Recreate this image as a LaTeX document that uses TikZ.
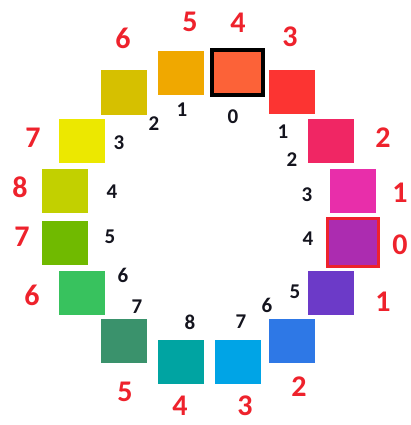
\documentclass[tikz,border=0pt]{standalone}
\usepackage{fontspec}
\setmainfont{Carlito}
\usetikzlibrary{positioning}
\definecolor{LabelRed}{RGB}{238,34,44}
\definecolor{LabelBlack}{RGB}{20,20,30}
\definecolor{ColA}{RGB}{252,98,56}
\definecolor{ColB}{RGB}{252,52,50}
\definecolor{ColC}{RGB}{240,38,100}
\definecolor{ColD}{RGB}{232,46,170}
\definecolor{ColE}{RGB}{172,44,176}
\definecolor{ColF}{RGB}{108,58,200}
\definecolor{ColG}{RGB}{46,120,230}
\definecolor{ColH}{RGB}{0,164,230}
\definecolor{ColI}{RGB}{0,164,162}
\definecolor{ColJ}{RGB}{58,146,108}
\definecolor{ColK}{RGB}{56,194,94}
\definecolor{ColL}{RGB}{112,186,0}
\definecolor{ColM}{RGB}{194,208,0}
\definecolor{ColN}{RGB}{236,232,0}
\definecolor{ColO}{RGB}{214,192,0}
\definecolor{ColP}{RGB}{240,168,0}
\tikzset{
  colsq/.style={rectangle,minimum width=46pt,minimum height=44pt,inner sep=0pt},
  outlbl/.style={text=LabelRed,font=\fontsize{30}{30}\selectfont\bfseries,inner sep=0pt},
  inlbl/.style={text=LabelBlack,font=\fontsize{21}{21}\selectfont\bfseries,inner sep=0pt},
}

\begin{document}
\begin{tikzpicture}[x=1pt,y=-1pt]
  \useasboundingbox (0,0) rectangle (410,425);
  % squares, clockwise from the top
  \node[colsq,fill=ColA,draw=black,line width=4pt,minimum width=51pt,minimum height=45pt] (sq1) at (237.5,72.5) {};
  \node[colsq,fill=ColB] (sq2) at (291.5,92) {};
  \node[colsq,fill=ColC] (sq3) at (331,141) {};
  \node[colsq,fill=ColD] (sq4) at (353,190.5) {};
  \node[colsq,fill=ColE,draw=LabelRed,line width=3pt,minimum width=51pt,minimum height=48pt] (sq5) at (353,242.5) {};
  \node[colsq,fill=ColF] (sq6) at (331,292.5) {};
  \node[colsq,fill=ColG] (sq7) at (291.5,341) {};
  \node[colsq,fill=ColH] (sq8) at (238,361.5) {};
  \node[colsq,fill=ColI] (sq9) at (181,361.5) {};
  \node[colsq,fill=ColJ] (sq10) at (124,341) {};
  \node[colsq,fill=ColK] (sq11) at (81.5,293) {};
  \node[colsq,fill=ColL] (sq12) at (65,242.5) {};
  \node[colsq,fill=ColM] (sq13) at (65,190.5) {};
  \node[colsq,fill=ColN] (sq14) at (81.5,141) {};
  \node[colsq,fill=ColO] (sq15) at (124,92.5) {};
  \node[colsq,fill=ColP] (sq16) at (181,73) {};
  % outer numbers
  \node[outlbl] (out1) at (238,23) {4};
  \node[outlbl] (out2) at (290,37) {3};
  \node[outlbl] (out3) at (383,138) {2};
  \node[outlbl] (out4) at (400,193) {1};
  \node[outlbl] (out5) at (400,245) {0};
  \node[outlbl] (out6) at (383,302) {1};
  \node[outlbl] (out7) at (299,387) {2};
  \node[outlbl] (out8) at (245,406) {3};
  \node[outlbl] (out9) at (180,406) {4};
  \node[outlbl] (out10) at (125,392) {5};
  \node[outlbl] (out11) at (32,295) {6};
  \node[outlbl] (out12) at (22,237) {7};
  \node[outlbl] (out13) at (20,187) {8};
  \node[outlbl] (out14) at (33,138) {7};
  \node[outlbl] (out15) at (123,38) {6};
  \node[outlbl] (out16) at (190,22) {5};
  % inner numbers
  \node[inlbl] (in1) at (233,117) {0};
  \node[inlbl] (in2) at (283,132) {1};
  \node[inlbl] (in3) at (292,160) {2};
  \node[inlbl] (in4) at (307,195) {3};
  \node[inlbl] (in5) at (308,239) {4};
  \node[inlbl] (in6) at (295,292) {5};
  \node[inlbl] (in7) at (267,305) {6};
  \node[inlbl] (in8) at (241,322) {7};
  \node[inlbl] (in9) at (190,322) {8};
  \node[inlbl] (in10) at (137,307) {7};
  \node[inlbl] (in11) at (123,275) {6};
  \node[inlbl] (in12) at (110,237) {5};
  \node[inlbl] (in13) at (112,192) {4};
  \node[inlbl] (in14) at (119,143) {3};
  \node[inlbl] (in15) at (154,124) {2};
  \node[inlbl] (in16) at (182,110) {1};
\end{tikzpicture}
\end{document}
